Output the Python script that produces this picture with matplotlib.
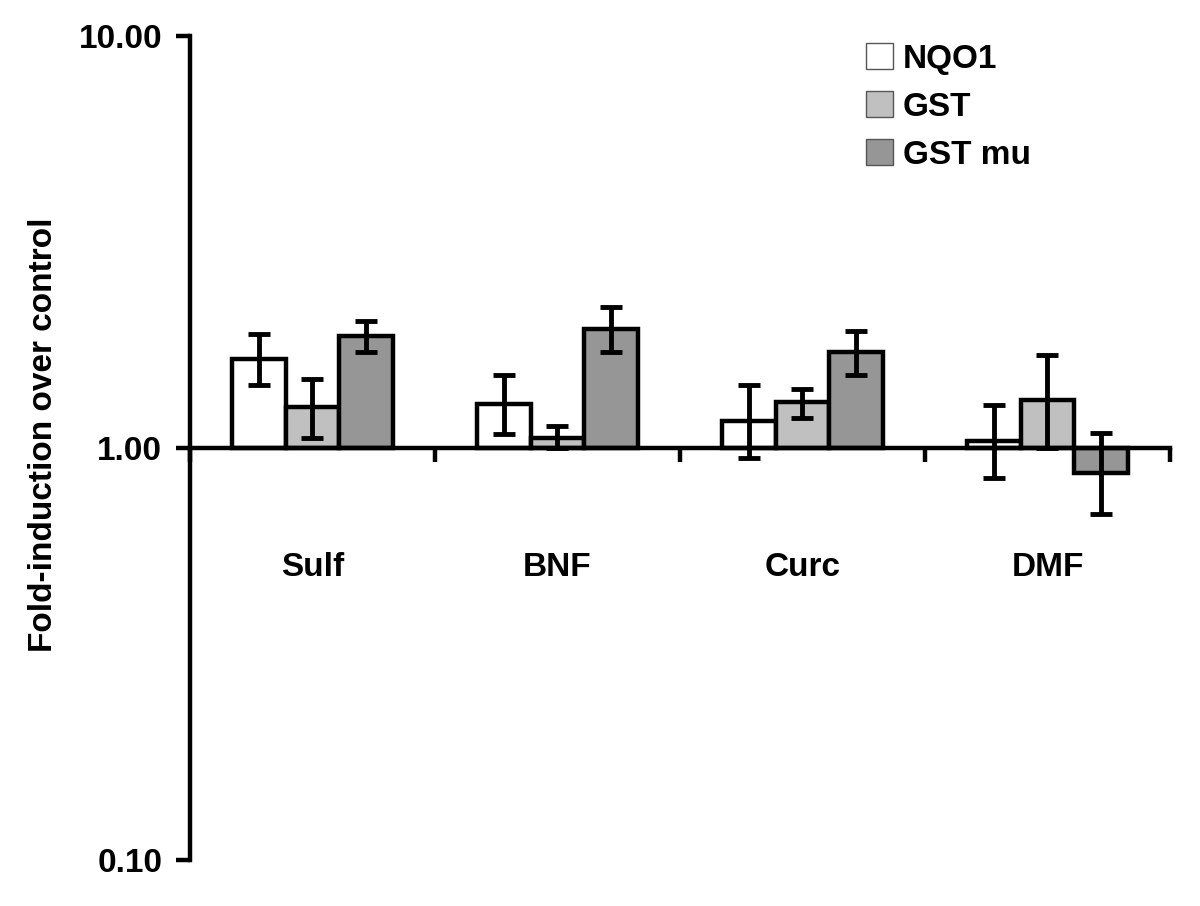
import matplotlib.pyplot as plt
import matplotlib.ticker as mticker
import numpy as np

categories = ['Sulf', 'BNF', 'Curc', 'DMF']
series = ['NQO1', 'GST', 'GST mu']
colors = ['#ffffff', '#c0c0c0', '#969696']

# fold-induction means, and lower / upper ends of the error bars
means = {
    'NQO1':   [1.64, 1.28, 1.16, 1.04],
    'GST':    [1.26, 1.06, 1.29, 1.31],
    'GST mu': [1.87, 1.94, 1.71, 0.87],
}
err_low = {
    'NQO1':   [1.42, 1.08, 0.946, 0.846],
    'GST':    [1.06, 1.00, 1.18, 1.00],
    'GST mu': [1.71, 1.71, 1.50, 0.69],
}
err_high = {
    'NQO1':   [1.89, 1.50, 1.42, 1.27],
    'GST':    [1.47, 1.13, 1.39, 1.68],
    'GST mu': [2.03, 2.20, 1.92, 1.09],
}

plt.rcParams['font.family'] = ['Liberation Sans', 'DejaVu Sans']
plt.rcParams['font.weight'] = 'bold'

fig = plt.figure(figsize=(12, 9.06), dpi=100)
ax = fig.add_axes([0.1583, 0.0508, 0.8167, 0.9095])

width = 0.22
centers = np.arange(len(categories)) + 0.5
for i, name in enumerate(series):
    x = centers + (i - 1) * width
    m = np.array(means[name])
    lo = m - np.array(err_low[name])
    hi = np.array(err_high[name]) - m
    ax.bar(x, m - 1, bottom=1, width=width, color=colors[i],
           edgecolor='black', linewidth=3.2, label=name, zorder=2)
    ax.errorbar(x, m, yerr=[lo, hi], fmt='none', ecolor='black',
                elinewidth=3.5, capsize=8, capthick=3.5, zorder=3)

ax.set_yscale('log')
ax.set_ylim(0.1, 10)
ax.set_xlim(0, len(categories))
ax.yaxis.set_major_locator(mticker.FixedLocator([0.1, 1, 10]))
ax.yaxis.set_minor_locator(mticker.NullLocator())
ax.yaxis.set_major_formatter(mticker.FormatStrFormatter('%.2f'))

ax.spines['top'].set_visible(False)
ax.spines['right'].set_visible(False)
ax.spines['bottom'].set_position(('data', 1))
ax.spines['left'].set_linewidth(3.2)
ax.spines['bottom'].set_linewidth(3.2)
ax.spines['bottom'].set_zorder(4)

ax.set_xticks(np.arange(len(categories) + 1))
ax.set_xticklabels([])
ax.set_xticks(centers, minor=True)
ax.set_xticklabels(categories, minor=True)
ax.tick_params(axis='x', which='major', direction='out', length=10, width=3.2)
ax.tick_params(axis='x', which='minor', length=0, pad=75, labelsize=24)
ax.tick_params(axis='y', direction='out', length=10, width=3.2, pad=10, labelsize=24)

ax.set_ylabel('Fold-induction over control', fontsize=24, fontweight='bold')
ax.yaxis.set_label_coords(-0.134, 0.516)

leg = ax.legend(loc='upper left', bbox_to_anchor=(0.69, 0.991), frameon=False,
                fontsize=24, handlelength=0.8, handleheight=0.8, handletextpad=0.3,
                labelspacing=0.5, borderaxespad=0, borderpad=0)
for h in leg.legend_handles:
    h.set_linewidth(1)
    h.set_edgecolor('#555555')

fig.savefig('out.png', dpi=100)
